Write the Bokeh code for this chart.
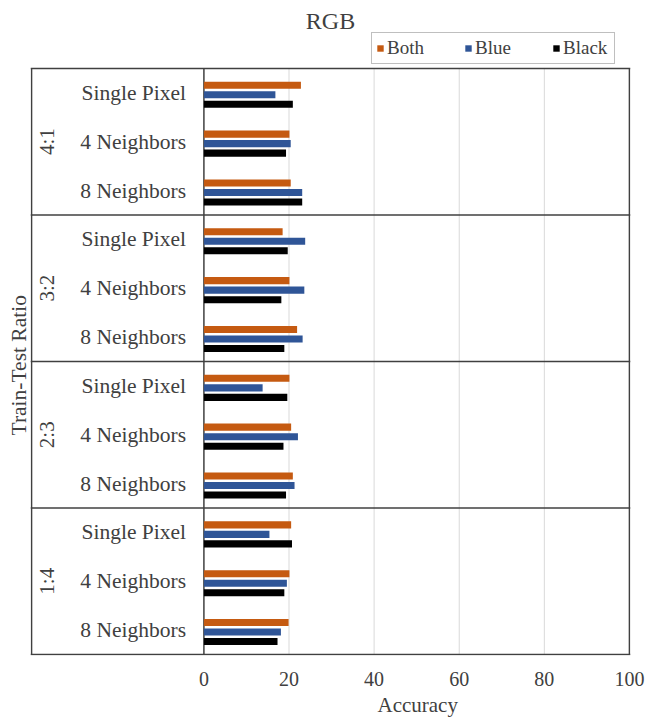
from bokeh.plotting import figure
from bokeh.models import (ColumnDataSource, Range1d, FixedTicker,
                          Span, Legend, LegendItem, Title)
from bokeh.transform import dodge
from bokeh.core.properties import value
from bokeh.embed import file_html
from bokeh.resources import INLINE
import math

ratios = ["4:1", "3:2", "2:3", "1:4"]
methods = ["Single Pixel", "4 Neighbors", "8 Neighbors"]
series = ["Both", "Blue", "Black"]
both = [22.8, 20.1, 20.4, 18.5, 20.1, 21.9, 20.1, 20.5, 20.9, 20.5, 20.1, 19.9]
blue = [16.8, 20.4, 23.1, 23.8, 23.6, 23.2, 13.8, 22.1, 21.3, 15.4, 19.5, 18.1]
black = [20.9, 19.3, 23.1, 19.7, 18.2, 18.9, 19.6, 18.7, 19.3, 20.7, 18.9, 17.3]
colors = ["#c55a11", "#2f5597", "#000000"]
x_ticks = [0, 20, 40, 60, 80, 100]

FONT = "Liberation Serif"
TXT = "#404040"
EDGE = "#404040"

n_cat = len(ratios) * len(methods)
X_MIN, X_MAX = -40.5, 100
Y_TOP = 13.39  # extra room above the chart box for title and legend

# category slot positions (top to bottom) derived from the index
cat_y = [n_cat - (gi * len(methods) + mi) - 0.5
         for gi in range(len(ratios)) for mi in range(len(methods))]
src = ColumnDataSource(dict(y=cat_y, method=[m for r in ratios for m in methods],
                            Both=both, Blue=blue, Black=black))
grp_y = [n_cat - gi * len(methods) - len(methods) / 2 for gi in range(len(ratios))]
gsrc = ColumnDataSource(dict(y=grp_y, grp=ratios))

p = figure(width=648, height=719,
           y_range=Range1d(-0.02, Y_TOP), x_range=Range1d(X_MIN - 0.25, X_MAX + 0.25),
           output_backend="svg", toolbar_location=None,
           min_border_left=30, min_border_right=18, min_border_top=0, min_border_bottom=0)
p.outline_line_color = None

# light gridlines and box lines
p.segment(x0=x_ticks[1:], x1=x_ticks[1:], y0=0, y1=n_cat, line_color="#d9d9d9", line_width=1)
for loc in range(0, n_cat + 1, len(methods)):
    p.add_layout(Span(location=loc, dimension="width", line_color=EDGE, line_width=1.5))
p.segment(x0=[X_MIN, X_MAX], x1=[X_MIN, X_MAX], y0=0, y1=n_cat, line_color=EDGE, line_width=1.5)
p.segment(x0=0, x1=0, y0=0, y1=n_cat, line_color=EDGE, line_width=1.5)

offsets = [0.155, -0.04, -0.235]
renderers = []
for s, c, off in zip(series, colors, offsets):
    r = p.hbar(y=dodge("y", off), right=s, left=0, height=0.145,
               source=src, fill_color=c, line_color=None)
    renderers.append(r)

# category labels
p.text(x=-4.2, y="y", text="method", source=src, text_align="right",
       text_baseline="middle", text_font=value(FONT), text_font_size="21.5px",
       text_color=TXT)
# group labels
p.text(x=-36.9, y="y", text="grp", source=gsrc, angle=math.pi / 2,
       text_align="center", text_baseline="middle", text_font=value(FONT),
       text_font_size="21px", text_color=TXT)
# chart title
p.text(x=[(X_MIN + X_MAX) / 2], y=[Y_TOP - 0.41], text=["RGB"], text_align="center",
       text_baseline="middle", text_font=value(FONT), text_font_size="24px",
       text_color=TXT)

p.yaxis.visible = False
p.xgrid.visible = False
p.ygrid.visible = False
p.xaxis.ticker = FixedTicker(ticks=x_ticks)
p.xaxis.axis_line_color = None
p.xaxis.major_tick_line_color = None
p.xaxis.minor_tick_line_color = None
p.xaxis.major_label_standoff = 10
p.xaxis.major_label_text_font = FONT
p.xaxis.major_label_text_font_size = "20px"
p.xaxis.major_label_text_color = TXT

legend = Legend(items=[LegendItem(label=s, renderers=[r]) for s, r in zip(series, renderers)],
                orientation="horizontal", location=(341, 591),
                glyph_width=8, glyph_height=8, label_standoff=3, spacing=30, padding=4,
                label_width=47, margin=0, border_line_color="#7f7f7f", border_line_width=1,
                label_text_font=FONT, label_text_font_size="19px", label_text_color=TXT,
                label_height=17, background_fill_alpha=0)
p.add_layout(legend)

p.add_layout(Title(text="Train-Test Ratio", align="left", offset=220, text_font=FONT,
                   text_font_size="21.5px", text_font_style="normal", text_color=TXT,
                   standoff=0), "left")
p.add_layout(Title(text="Accuracy", align="left", offset=347, text_font=FONT,
                   text_font_size="21px", text_font_style="normal", text_color=TXT,
                   standoff=5), "below")

open("out.html", "w").write(file_html(p, INLINE))
